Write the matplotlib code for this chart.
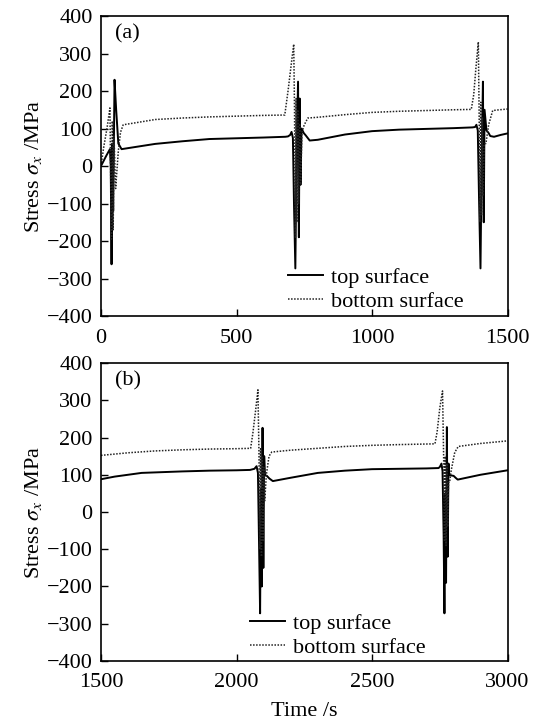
import matplotlib
matplotlib.use("Agg")
import matplotlib.pyplot as plt

plt.rcParams['font.family'] = ['Liberation Serif', 'DejaVu Serif']
plt.rcParams['mathtext.fontset'] = 'stix'

# ---- panel (a): 0 - 1500 s ----
t_top_a = [0, 10, 20, 33, 36, 39, 42, 45, 50, 56, 64, 76, 120, 200, 300, 400, 500, 600, 680,
           690, 698, 703, 708, 712, 717, 721, 727, 730, 733, 736, 740, 748, 755, 770,
           800, 900, 1000, 1100, 1200, 1300, 1370, 1380, 1385, 1390, 1395, 1400, 1404, 1409,
           1412, 1415, 1422, 1430, 1436, 1450, 1475, 1500]
s_top_a = [0, 14, 28, 45, 0, -262, 60, -120, 230, 150, 60, 45, 50, 59, 66, 72, 74, 76, 78,
           79, 83, 91, 75, -100, -273, 0, 225, -190, 180, -50, 100, 88, 82, 68,
           70, 84, 93, 97, 99, 101, 103, 104, 110, 95, -100, -273, 0, 225,
           -150, 150, 95, 88, 80, 78, 83, 87]

t_bot_a = [0, 10, 22, 33, 36, 39, 42, 45, 48, 54, 64, 72, 82, 125, 200, 300, 400, 500, 600, 678,
           690, 700, 711, 714, 717, 720, 723, 726, 729, 733, 737, 741, 750, 763,
           800, 900, 1000, 1100, 1200, 1300, 1366, 1375, 1383, 1392, 1395, 1398, 1401, 1404,
           1407, 1410, 1414, 1420, 1430, 1445, 1470, 1500]
s_bot_a = [0, 50, 100, 155, -40, -195, 120, -170, 80, -60, 40, 90, 110, 115, 124, 128, 131, 133, 135, 136,
           200, 260, 325, 150, -190, 180, -150, 150, -100, 110, -50, 90, 110, 128,
           130, 137, 143, 146, 148, 150, 151, 190, 260, 331, 140, -150, 170, -130,
           130, -80, 60, 60, 110, 148, 150, 152]

# ---- panel (b): 1500 - 3000 s ----
t_top_b = [1500, 1550, 1650, 1800, 1900, 2000, 2050, 2066, 2074, 2079, 2083, 2087, 2090, 2093,
           2096, 2099, 2102, 2105, 2112, 2121, 2134, 2200, 2300, 2400, 2500, 2600, 2700, 2745,
           2750, 2756, 2760, 2764, 2767, 2770, 2773, 2776, 2779, 2782, 2785, 2801, 2808, 2816,
           2900, 3000]
s_top_b = [88, 95, 105, 109, 111, 112, 113, 116, 123, 105, -80, -272, 60, -200,
           226, -150, 150, 99, 97, 90, 83, 92, 105, 111, 115, 116, 117, 118,
           121, 130, 110, -60, -272, 50, -190, 228, -120, 130, 99, 97, 92, 87,
           100, 112]

t_bot_b = [1500, 1600, 1700, 1800, 1900, 2000, 2052, 2060, 2070, 2079, 2083, 2086, 2089, 2092,
           2095, 2098, 2101, 2104, 2110, 2120, 2130, 2200, 2300, 2400, 2500, 2600, 2732, 2740,
           2750, 2760, 2764, 2767, 2770, 2773, 2776, 2779, 2782, 2786, 2792, 2805, 2818, 2900,
           3000]
s_bot_b = [152, 159, 164, 167, 169, 170, 171, 210, 270, 328, 150, -100, 170, -120,
           150, -80, 120, 30, 100, 150, 161, 166, 171, 176, 179, 181, 183, 215,
           280, 325, 150, -76, 150, -90, 130, -40, 80, 80, 112, 160, 176, 184,
           191]

y_ticks = [-400, -300, -200, -100, 0, 100, 200, 300, 400]

fig = plt.figure(figsize=(5.4, 7.22), dpi=100)
ax1 = fig.add_axes([0.187, 0.5623, 0.753, 0.4155])
ax2 = fig.add_axes([0.187, 0.0845, 0.753, 0.4127])

panels = [
    (ax1, t_top_a, s_top_a, t_bot_a, s_bot_a, (0, 1500), [0, 500, 1000, 1500], '(a)', (0.459, 0.015)),
    (ax2, t_top_b, s_top_b, t_bot_b, s_bot_b, (1500, 3000), [1500, 2000, 2500, 3000], '(b)', (0.367, 0.01)),
]

for ax, tt, st, tb, sb, xl, xt, lab, lpos in panels:
    ax.plot(tt, st, color='black', lw=1.4, label='top surface')
    ax.plot(tb, sb, color='#222222', lw=1.1, linestyle=(0, (1, 1)), label='bottom surface')
    ax.set_xlim(*xl)
    ax.set_ylim(-400, 400)
    ax.set_xticks(xt)
    ax.set_yticks(y_ticks)
    ax.tick_params(direction='in', length=5, width=1, labelsize=16)
    ax.tick_params(axis='x', pad=9)
    ax.tick_params(axis='y', pad=6)
    for sp in ax.spines.values():
        sp.set_linewidth(1.2)
    ax.set_ylabel(r'Stress $\sigma_x$ /MPa', fontsize=16, labelpad=2)
    ax.text(0.034, 0.94, lab, transform=ax.transAxes, fontsize=16, va='center', ha='left')
    ax.legend(loc='lower left', bbox_to_anchor=lpos, frameon=False, fontsize=16,
              handlelength=1.58, handletextpad=0.36, labelspacing=0.15,
              borderpad=0, borderaxespad=0)

ax2.set_xlabel('Time /s', fontsize=16, labelpad=7)

fig.savefig('out.png', dpi=100)
